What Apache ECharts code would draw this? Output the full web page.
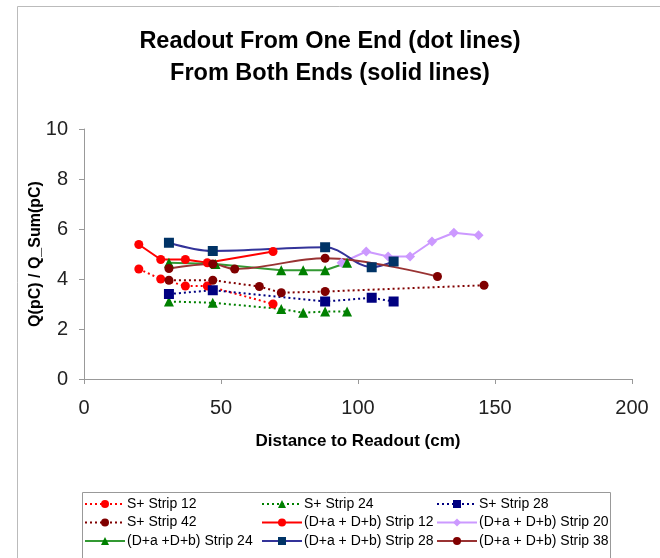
<!DOCTYPE html>
<html><head><meta charset="utf-8">
<script src="https://cdn.jsdelivr.net/npm/echarts@6/dist/echarts.min.js"></script>
<style>html,body{margin:0;padding:0;background:#fff}#c{width:660px;height:558px}</style>
</head><body><div id="c"></div>
<script>
// Data (x = distance cm, y = Q/Q_sum)
const sStrip12X = [20, 28, 37, 45, 69];
const sStrip12Y = [4.4, 4.0, 3.72, 3.72, 3.0];
const sStrip24X = [31, 47, 72, 80, 88, 96];
const sStrip24Y = [3.1, 3.05, 2.8, 2.65, 2.7, 2.7];
const sStrip28X = [31, 47, 88, 105, 113];
const sStrip28Y = [3.4, 3.55, 3.1, 3.25, 3.1];
const sStrip42X = [31, 47, 64, 72, 88, 146];
const sStrip42Y = [3.95, 3.95, 3.7, 3.45, 3.5, 3.75];
const dStrip12X = [20, 28, 37, 45, 69];
const dStrip12Y = [5.38, 4.78, 4.78, 4.65, 5.1];
const dStrip20X = [94, 103, 111, 119, 127, 135, 144];
const dStrip20Y = [4.65, 5.1, 4.9, 4.9, 5.5, 5.85, 5.75];
const dStrip24X = [31, 48, 72, 80, 88, 96];
const dStrip24Y = [4.65, 4.6, 4.35, 4.35, 4.35, 4.65];
const dStrip28X = [31, 47, 88, 105, 113];
const dStrip28Y = [5.45, 5.12, 5.27, 4.47, 4.7];
const dStrip38X = [31, 47, 55, 88, 129];
const dStrip38Y = [4.42, 4.6, 4.4, 4.83, 4.1];
const xTicks = [0, 50, 100, 150, 200];
const yTicks = [0, 2, 4, 6, 8, 10];

const zip = (xs, ys) => xs.map((x, i) => [x, ys[i]]);
const FONT = 'Liberation Sans, Arial, sans-serif';

function dotted(name, xs, ys, color, symbol, size) {
  return { name, type: 'line', data: zip(xs, ys), symbol, symbolSize: size,
    itemStyle: { color: color }, lineStyle: { color: color, width: 2, type: [2, 3] } };
}
function solid(name, xs, ys, lineColor, markColor, symbol, size, smooth) {
  return { name, type: 'line', data: zip(xs, ys), symbol, symbolSize: size, smooth: smooth || false,
    itemStyle: { color: markColor }, lineStyle: { color: lineColor, width: 2, type: 'solid' } };
}

const series = [
  dotted('S+ Strip 12', sStrip12X, sStrip12Y, '#ff0000', 'circle', 9),
  dotted('S+ Strip 24', sStrip24X, sStrip24Y, '#008000', 'triangle', 10),
  dotted('S+ Strip 28', sStrip28X, sStrip28Y, '#000080', 'rect', 10),
  dotted('S+ Strip 42', sStrip42X, sStrip42Y, '#800000', 'circle', 9),
  solid('(D+a + D+b) Strip 12', dStrip12X, dStrip12Y, '#ff0000', '#ff0000', 'circle', 9),
  solid('(D+a + D+b) Strip 20', dStrip20X, dStrip20Y, '#cc99ff', '#cc99ff', 'diamond', 10),
  solid('(D+a +D+b) Strip 24', dStrip24X, dStrip24Y, '#339933', '#008000', 'triangle', 10),
  solid('(D+a + D+b) Strip 28', dStrip28X, dStrip28Y, '#333399', '#003366', 'rect', 10, 0.35),
  solid('(D+a + D+b) Strip 38', dStrip38X, dStrip38Y, '#993333', '#800000', 'circle', 9, 0.35)
];

// legend grid: row-major order as in the reference
const legendCols = [84, 261, 436];
const legendRows = [497, 515.5, 534];
const legends = series.map((s, i) => ({
  data: [s.name], left: legendCols[i % 3], top: legendRows[Math.floor(i / 3)],
  padding: 0, itemWidth: 40, itemHeight: 10,
  textStyle: { fontFamily: FONT, fontSize: 14, color: '#000', padding: [0, 0, 0, -3] }
}));

const option = {
  animation: false,
  backgroundColor: '#fff',
  title: {
    text: 'Readout From One End (dot lines)\nFrom Both Ends (solid lines)',
    left: 330, top: 26, textAlign: 'center', padding: 0,
    textStyle: { fontFamily: FONT, fontSize: 23.5, fontWeight: 'bold', color: '#000', lineHeight: 32 }
  },
  graphic: [
    { type: 'rect', shape: { x: 17.5, y: 6.5, width: 700, height: 600 }, style: { fill: 'none', stroke: '#bbbbbb', lineWidth: 1 }, silent: true, z: -1 },
    { type: 'rect', shape: { x: 82.5, y: 492.5, width: 528, height: 80 }, style: { fill: '#fff', stroke: '#999999', lineWidth: 1 }, silent: true, z: -1 }
  ],
  grid: { left: 84, right: 28, top: 129, bottom: 179 },
  xAxis: {
    type: 'value', min: xTicks[0], max: xTicks[xTicks.length - 1], interval: 50,
    name: 'Distance to Readout (cm)', nameLocation: 'middle', nameGap: 54,
    nameTextStyle: { fontFamily: FONT, fontSize: 17, fontWeight: 'bold', color: '#000' },
    axisLine: { lineStyle: { color: '#999' } },
    axisTick: { show: true, length: 5, inside: false, lineStyle: { color: '#999' } },
    axisLabel: { fontFamily: FONT, fontSize: 20, color: '#222', margin: 19 },
    splitLine: { show: false }
  },
  yAxis: {
    type: 'value', min: yTicks[0], max: yTicks[yTicks.length - 1], interval: 2,
    name: 'Q(pC) / Q_Sum(pC)', nameLocation: 'middle', nameGap: 40, nameRotate: 90,
    nameMoveOverlap: false,
    nameTextStyle: { fontFamily: FONT, fontSize: 16, fontWeight: 'bold', color: '#000' },
    axisLine: { show: true, lineStyle: { color: '#999' } },
    axisTick: { show: true, length: 5, inside: false, lineStyle: { color: '#999' } },
    axisLabel: { fontFamily: FONT, fontSize: 20, color: '#222', margin: 16 },
    splitLine: { show: false }
  },
  legend: legends,
  series
};
const chart = echarts.init(document.getElementById('c'), null, { renderer: 'canvas' });
chart.setOption(option);
</script></body></html>
